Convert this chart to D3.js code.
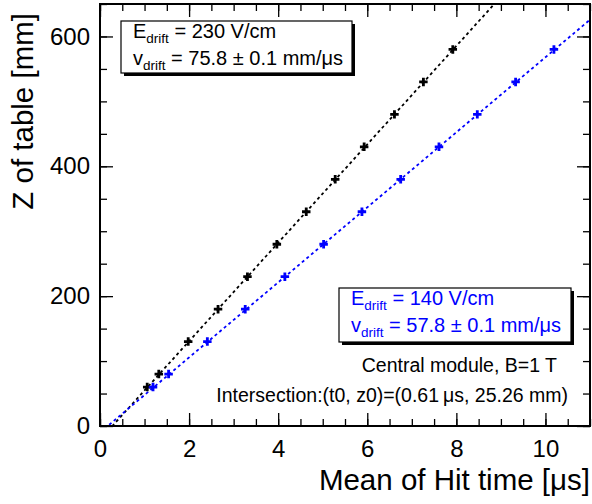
<!DOCTYPE html>
<html>
<head>
<meta charset="utf-8">
<script src="https://cdn.jsdelivr.net/npm/d3@7"></script>
<style>
  body { margin: 0; background: #fff; }
  text { font-family: "Liberation Sans", Arial, Helvetica, sans-serif; }
</style>
</head>
<body>
<div id="chart"></div>
<script>
// measured points, black = 230 V/cm, blue = 140 V/cm
let zTable = [60, 80, 130, 180, 230, 280, 330, 380, 430, 480, 530, 580];
let tBlack = [1.06, 1.32, 1.98, 2.65, 3.31, 3.97, 4.63, 5.28, 5.93, 6.61, 7.26, 7.92];
let tBlue = [1.19, 1.54, 2.41, 3.26, 4.15, 5.02, 5.88, 6.75, 7.61, 8.47, 9.33, 10.19];

// fit results
let t0 = 0.61, z0 = 25.26;
let vBlack = 75.8, vBlue = 57.8;

let xTicks = [0, 2, 4, 6, 8, 10];
let yTicks = [0, 200, 400, 600];

let width = 592, height = 504;
let margin = { top: 4, right: 2, bottom: 78, left: 100 };
let w = width - margin.left - margin.right,
  h = height - margin.top - margin.bottom;

let x = d3.scaleLinear().domain([0, 11]).range([0, w]),
  y = d3.scaleLinear().domain([0, 650]).range([h, 0]);

const svg = d3.select("#chart").append("svg")
  .attr("width", width)
  .attr("height", height);

svg.append("defs").append("clipPath")
  .attr("id", "clipFrame")
  .append("rect")
  .attr("width", w)
  .attr("height", h);

const focus = svg.append("g")
  .attr("transform", "translate(" + margin.left + "," + margin.top + ")");

// minor ticks every 0.5 / 50
let xMinor = d3.range(0, 11.01, 0.5), yMinor = d3.range(0, 651, 50);

let addAxis = function (axis, tr) {
  let g = focus.append("g").attr("transform", tr).call(axis);
  g.select(".domain").remove();
  g.selectAll("line").attr("stroke", "#000").attr("stroke-width", 1.3);
  return g;
}

addAxis(d3.axisBottom(x).tickValues(xMinor).tickSize(-7).tickFormat(""), "translate(0," + h + ")");
addAxis(d3.axisTop(x).tickValues(xMinor).tickSize(-7).tickFormat(""), "translate(0,0)");
addAxis(d3.axisLeft(y).tickValues(yMinor).tickSize(-7).tickFormat(""), "translate(0,0)");
addAxis(d3.axisRight(y).tickValues(yMinor).tickSize(-7).tickFormat(""), "translate(" + w + ",0)");

let xAxis = addAxis(d3.axisBottom(x).tickValues(xTicks).tickSize(-13).tickPadding(14).tickFormat(d3.format("d")), "translate(0," + h + ")");
addAxis(d3.axisTop(x).tickValues(xTicks).tickSize(-13).tickFormat(""), "translate(0,0)");
let yAxis = addAxis(d3.axisLeft(y).tickValues(yTicks).tickSize(-13).tickPadding(10).tickFormat(d3.format("d")), "translate(0,0)");
addAxis(d3.axisRight(y).tickValues(yTicks).tickSize(-13).tickFormat(""), "translate(" + w + ",0)");

xAxis.selectAll("text").style("font-size", "24px").attr("fill", "#000");
yAxis.selectAll("text").style("font-size", "24px").attr("fill", "#000");

// fit lines
let fitLine = function (v) {
  let pts = [0, 11].map(t => [t, z0 + v * (t - t0)]);
  return d3.line().x(d => x(d[0])).y(d => y(d[1]))(pts);
}

focus.append("path")
  .attr("d", fitLine(vBlack))
  .attr("clip-path", "url(#clipFrame)")
  .attr("fill", "none")
  .attr("stroke", "#000")
  .attr("stroke-width", 1.8)
  .attr("stroke-dasharray", "3,3");

focus.append("path")
  .attr("d", fitLine(vBlue))
  .attr("clip-path", "url(#clipFrame)")
  .attr("fill", "none")
  .attr("stroke", "#0000ff")
  .attr("stroke-width", 1.8)
  .attr("stroke-dasharray", "3,3");

// markers
let cross = d3.symbol().type(d3.symbolCross).size(40);
let drawPoints = function (ts, color) {
  focus.selectAll(null)
    .data(ts)
    .enter()
    .append("path")
    .attr("d", cross)
    .attr("transform", (d, i) => "translate(" + x(d) + "," + y(zTable[i]) + ")")
    .attr("fill", color);
}
drawPoints(tBlack, "#000");
drawPoints(tBlue, "#0000ff");

// frame
focus.append("rect")
  .attr("width", w)
  .attr("height", h)
  .attr("fill", "none")
  .attr("stroke", "#000")
  .attr("stroke-width", 2);

// axis titles
svg.append("text")
  .attr("x", 590)
  .attr("y", 490)
  .attr("text-anchor", "end")
  .style("font-size", "29.5px")
  .text("Mean of Hit time [\u03bcs]");

svg.append("text")
  .attr("transform", "translate(33,13) rotate(-90)")
  .attr("text-anchor", "end")
  .style("font-size", "29.5px")
  .text("Z of table [mm]");

// pave boxes with shadow
let pave = function (x0, y0, bw, bh, color, lines) {
  let g = svg.append("g");
  g.append("rect")
    .attr("x", x0 + 3).attr("y", y0 + 3)
    .attr("width", bw).attr("height", bh)
    .attr("fill", "#000");
  g.append("rect")
    .attr("x", x0).attr("y", y0)
    .attr("width", bw).attr("height", bh)
    .attr("fill", "#fff")
    .attr("stroke", "#000")
    .attr("stroke-width", 1.2);
  lines.forEach(function (l, i) {
    let t = g.append("text")
      .attr("x", x0 + 12)
      .attr("y", y0 + 17 + i * 26.5)
      .attr("fill", color)
      .style("font-size", "20px");
    t.append("tspan").text(l[0]);
    t.append("tspan").attr("dy", 5).style("font-size", "13.5px").text("drift");
    t.append("tspan").attr("dy", -5).text(l[1]);
  });
}

pave(121, 21, 231, 52, "#000", [["E", " = 230 V/cm"], ["v", " = 75.8 \u00b1 0.1 mm/\u03bcs"]]);
pave(339, 288, 232, 54, "#0000ff", [["E", " = 140 V/cm"], ["v", " = 57.8 \u00b1 0.1 mm/\u03bcs"]]);

svg.append("text")
  .attr("x", 557)
  .attr("y", 372)
  .attr("text-anchor", "end")
  .style("font-size", "19.5px")
  .text("Central module, B=1 T");

svg.append("text")
  .attr("x", 568)
  .attr("y", 402)
  .attr("text-anchor", "end")
  .style("font-size", "19.5px")
  .text("Intersection:(t0, z0)=(0.61\u2009\u03bcs, 25.26 mm)");
</script>
</body>
</html>
